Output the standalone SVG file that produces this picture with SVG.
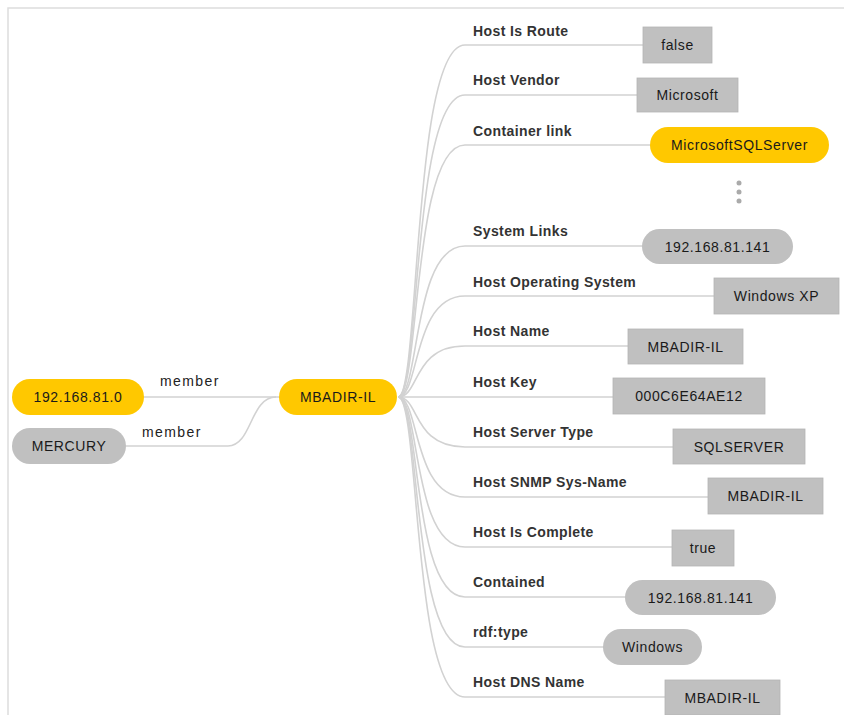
<svg xmlns="http://www.w3.org/2000/svg" width="844" height="715" viewBox="0 0 844 715">
<style>
.bg{fill:#ffffff}
.frame{stroke:#dddddd;stroke-width:1.5;fill:none}
.edge{stroke:#d2d2d2;stroke-width:1.6;fill:none}
.yel{fill:#ffc800}
.gry{fill:#c0c0c0}
.box{fill:#c0c0c0;stroke:#b4b4b4;stroke-width:0.8}
.nt{font-family:"Liberation Sans",Arial,sans-serif;font-size:14px;letter-spacing:0.6px;fill:#1a1a1a;text-anchor:middle;dominant-baseline:central}
.lbl{font-family:"Liberation Sans",Arial,sans-serif;font-size:14px;font-weight:bold;letter-spacing:0.4px;fill:#333333}
.mem{font-family:"Liberation Sans",Arial,sans-serif;font-size:14px;letter-spacing:1.4px;fill:#222222}
.dot{fill:#aaaaaa}
</style>
<rect class="bg" x="0" y="0" width="844" height="715"/>
<path class="frame" d="M8,715 L8,8 L844,8"/>
<g id="connectors">
<path class="edge" d="M144,397 L279,397"/>
<path class="edge" d="M126,446 L228,446 C252,446 250,397 276,397"/>
<path class="edge" d="M398,397 C420,397 412,45 465,45 L643,45"/>
<path class="edge" d="M398,397 C420,397 412,95 465,95 L637,95"/>
<path class="edge" d="M398,397 C420,397 412,145 465,145 L650,145"/>
<path class="edge" d="M398,397 C420,397 412,246 465,246 L645,246"/>
<path class="edge" d="M398,397 C420,397 412,296 465,296 L714,296"/>
<path class="edge" d="M398,397 C420,397 412,346 465,346 L628,346"/>
<path class="edge" d="M398,397 L613,397"/>
<path class="edge" d="M398,397 C420,397 412,447 465,447 L673,447"/>
<path class="edge" d="M398,397 C420,397 412,497 465,497 L708,497"/>
<path class="edge" d="M398,397 C420,397 412,547 465,547 L672,547"/>
<path class="edge" d="M398,397 C420,397 412,597 465,597 L628,597"/>
<path class="edge" d="M398,397 C420,397 412,647 465,647 L606,647"/>
<path class="edge" d="M398,397 C420,397 412,697 465,697 L665,697"/>
<text class="mem" x="160" y="386">member</text>
<text class="mem" x="142" y="437">member</text>
<text class="lbl" x="473" y="36">Host Is Route</text>
<text class="lbl" x="473" y="85">Host Vendor</text>
<text class="lbl" x="473" y="136">Container link</text>
<text class="lbl" x="473" y="236">System Links</text>
<text class="lbl" x="473" y="287">Host Operating System</text>
<text class="lbl" x="473" y="336">Host Name</text>
<text class="lbl" x="473" y="387">Host Key</text>
<text class="lbl" x="473" y="437">Host Server Type</text>
<text class="lbl" x="473" y="487">Host SNMP Sys-Name</text>
<text class="lbl" x="473" y="537">Host Is Complete</text>
<text class="lbl" x="473" y="587">Contained</text>
<text class="lbl" x="473" y="637">rdf:type</text>
<text class="lbl" x="473" y="687">Host DNS Name</text>
</g>
<g id="n-net"><rect class="yel" x="12" y="379" width="132" height="36" rx="18"/><text class="nt" x="78" y="397">192.168.81.0</text></g>
<g id="n-mercury"><rect class="gry" x="12" y="428" width="114" height="36" rx="18"/><text class="nt" x="69" y="446">MERCURY</text></g>
<g id="n-hub"><rect class="yel" x="279" y="379" width="118" height="36" rx="18"/><text class="nt" x="338" y="397">MBADIR-IL</text></g>
<g id="n-false"><rect class="box" x="643" y="27" width="69" height="36"/><text class="nt" x="677.5" y="45">false</text></g>
<g id="n-microsoft"><rect class="box" x="637" y="78" width="101" height="34"/><text class="nt" x="687.5" y="95">Microsoft</text></g>
<g id="n-mssql"><rect class="yel" x="650" y="127" width="179" height="36" rx="18"/><text class="nt" x="739.5" y="145">MicrosoftSQLServer</text></g>
<g id="n-more"><circle class="dot" cx="739" cy="183" r="2.5"/><circle class="dot" cx="739" cy="192" r="2.5"/><circle class="dot" cx="739" cy="201" r="2.5"/></g>
<g id="n-syslink"><rect class="gry" x="642" y="229" width="151" height="35" rx="17.5"/><text class="nt" x="717.5" y="246.5">192.168.81.141</text></g>
<g id="n-os"><rect class="box" x="714" y="278" width="125" height="36"/><text class="nt" x="776.5" y="296">Windows XP</text></g>
<g id="n-hostname"><rect class="box" x="628" y="329" width="115" height="35"/><text class="nt" x="685.5" y="346.5">MBADIR-IL</text></g>
<g id="n-hostkey"><rect class="box" x="613" y="378" width="152" height="36"/><text class="nt" x="689" y="396">000C6E64AE12</text></g>
<g id="n-servertype"><rect class="box" x="673" y="429" width="132" height="35"/><text class="nt" x="739" y="446.5">SQLSERVER</text></g>
<g id="n-snmp"><rect class="box" x="708" y="478" width="115" height="36"/><text class="nt" x="765.5" y="496">MBADIR-IL</text></g>
<g id="n-true"><rect class="box" x="672" y="530" width="62" height="36"/><text class="nt" x="703" y="548">true</text></g>
<g id="n-contained"><rect class="gry" x="625" y="580" width="151" height="35" rx="17.5"/><text class="nt" x="700.5" y="597.5">192.168.81.141</text></g>
<g id="n-windows"><rect class="gry" x="603" y="629" width="99" height="36" rx="18"/><text class="nt" x="652.5" y="647">Windows</text></g>
<g id="n-dns"><rect class="box" x="665" y="680" width="115" height="35"/><text class="nt" x="722.5" y="697.5">MBADIR-IL</text></g>
</svg>
